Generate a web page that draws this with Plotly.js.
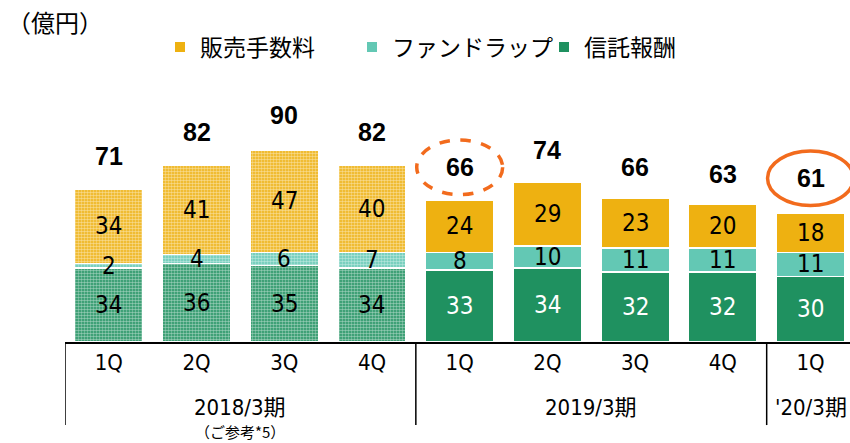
<!DOCTYPE html>
<html><head><meta charset="utf-8">
<script src="https://cdn.plot.ly/plotly-3.0.1.min.js"></script>
<style>html,body{margin:0;padding:0;background:#fff}#c{width:850px;height:443px}</style>
</head><body><div id="c"></div>
<script>
const quarters = ['1Q','2Q','3Q','4Q','1Q','2Q','3Q','4Q','1Q'];
const groups = [
  {label:'2018/3期', sub:'（ご参考*5）', start:0, end:3},
  {label:'2019/3期', sub:'', start:4, end:7},
  {label:"'20/3期", sub:'', start:8, end:8}
];
const trustFee = [34,36,35,34,33,34,32,32,30];     // 信託報酬
const fundWrap = [2,4,6,7,8,10,11,11,11];          // ファンドラップ
const salesFee = [34,41,47,40,24,29,23,20,18];     // 販売手数料
const totals   = [71,82,90,82,66,74,66,63,61];
const reference = [true,true,true,true,false,false,false,false,false];
const highlighted = {4:'dash', 8:'solid'};

const FONT = '"Liberation Sans Narrow","DejaVu Sans Condensed","Liberation Sans","Noto Sans CJK JP",sans-serif';
const BOLD = '"Liberation Sans","Noto Sans",sans-serif';
const JP = '"Noto Sans CJK JP","Liberation Sans",sans-serif';
const xs = quarters.map((q,i)=>i);

const cSales='#EEB111', cWrap='#63C8B4', cTrust='#1F9160';
function pat(){return {shape: reference.map(r=>r?'.':''), fgcolor:'#ffffff', fillmode:'overlay', size:3, solidity:0.55};}
function series(name, vals, color){
  return {type:'bar', name:name, x:xs, y:vals, showlegend:false,
    marker:{color:color, line:{color:'#ffffff', width:1.5}, pattern:pat()},
    hoverinfo:'skip'};
}
const data = [
  series('信託報酬', trustFee, cTrust),
  series('ファンドラップ', fundWrap, cWrap),
  series('販売手数料', salesFee, cSales)
];
[['販売手数料',cSales],['ファンドラップ',cWrap],['信託報酬',cTrust]].forEach(([n,c])=>{
  data.push({type:'scatter', mode:'markers', name:n, x:[null], y:[null],
    marker:{symbol:'square', size:10, color:c}, hoverinfo:'skip'});
});

const ann = [];
xs.forEach(i=>{
  ann.push({x:i, y:trustFee[i]/2, text:String(trustFee[i]), showarrow:false,
    font:{size:24, color: reference[i]?'#000':'#fff', family:FONT}});
  ann.push({x:i, y:trustFee[i]+fundWrap[i]/2, text:String(fundWrap[i]), showarrow:false,
    font:{size:24, color:'#000', family:FONT}});
  ann.push({x:i, y:trustFee[i]+fundWrap[i]+salesFee[i]/2, text:String(salesFee[i]), showarrow:false,
    font:{size:24, color:'#000', family:FONT}});
  ann.push({x:i, y:totals[i]+14, text:'<b>'+totals[i]+'</b>', showarrow:false,
    font:{size:25, color:'#000', family:BOLD}});
});
groups.forEach(g=>{
  const cx=(g.start+g.end)/2;
  ann.push({x:cx, xref:'x', y:-0.25, yref:'paper', text:g.label, showarrow:false,
    font:{size:22, color:'#000', family:FONT}, yanchor:'middle'});
  if(g.sub) ann.push({x:cx, xref:'x', y:-0.34, yref:'paper', text:g.sub, showarrow:false,
    font:{size:15, color:'#000', family:JP}, yanchor:'middle'});
});
ann.push({xref:'paper', yref:'paper', x:-0.077, y:1.222, xanchor:'left', yanchor:'middle',
  text:'（億円）', showarrow:false, font:{size:24, color:'#000', family:JP}});

const shapes = [];
[-0.5, 3.5, 7.5].forEach(b=>{
  shapes.push({type:'line', xref:'x', yref:'paper', x0:b, x1:b, y0:0, y1:-0.317,
    line:{color:'#000', width:1.5}});
});
Object.keys(highlighted).forEach(k=>{
  const i=+k;
  shapes.push({type:'circle', xref:'x', yref:'y', x0:i-0.49, x1:i+0.49,
    y0:totals[i]+14-12.5, y1:totals[i]+14+12.5,
    line:{color:'#F26B1D', width:3.5, dash:highlighted[k]==='dash'?'dash':'solid'}});
});

const layout = {
  width:850, height:443,
  margin:{l:65, r:0, t:80, b:101, autoexpand:false},
  paper_bgcolor:'#fff', plot_bgcolor:'#fff',
  barmode:'stack', bargap:0.22,
  showlegend:true,
  legend:{orientation:'h', x:160/850, xanchor:'left', xref:'container',
    y:1-47/443, yanchor:'middle', yref:'container',
    entrywidth:147, entrywidthmode:'pixels',
    font:{size:23, family:JP, color:'#000'}, itemwidth:30, traceorder:'normal',
    bgcolor:'rgba(0,0,0,0)'},
  xaxis:{range:[-0.5,8.45], tickmode:'array', tickvals:xs, ticktext:quarters,
    showline:true, linecolor:'#000', linewidth:2, ticks:'', showgrid:false, zeroline:false,
    tickfont:{size:22, family:FONT, color:'#000'}, fixedrange:true, automargin:false},
  yaxis:{range:[0,120], visible:false, showgrid:false, zeroline:false, automargin:false},
  annotations:ann, shapes:shapes,
  font:{family:JP}
};
Plotly.newPlot('c', data, layout, {displayModeBar:false, staticPlot:true});
</script></body></html>
